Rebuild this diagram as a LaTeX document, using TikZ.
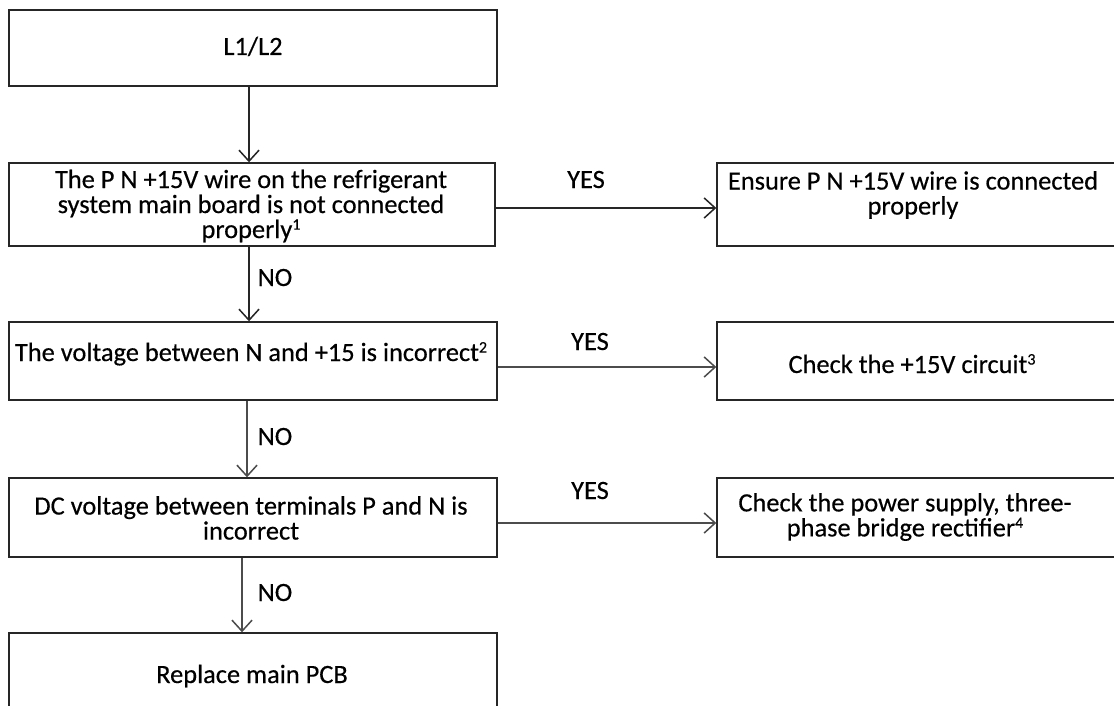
\documentclass[tikz,border=0pt]{standalone}
\usepackage{fontspec}
\setmainfont{Carlito}[FakeBold=0.4]
\usetikzlibrary{arrows.meta}
\newcommand\supr[1]{\raisebox{0.32em}{\fontsize{16}{16}\selectfont #1}}
\begin{document}
\begin{tikzpicture}[x=1pt,y=-1pt,
  box/.style={draw=black!85, line width=1.4pt, inner sep=0pt},
  txt/.style={font=\fontsize{26.4}{25}\selectfont, align=center, inner sep=0pt},
  lbl/.style={font=\fontsize{26.4}{25}\selectfont, inner sep=0pt, anchor=base},
  arr/.style={line width=1.5pt, draw=black!70, -{Straight Barb[length=11pt,width=20pt,line width=1.5pt]}},
]
\useasboundingbox (0,0) rectangle (1114,706);
\clip (0,0) rectangle (1114,706);
\fill[white] (0,0) rectangle (1114,706);
% boxes
\node[box, minimum width=488pt, minimum height=76pt] (A) at (253,48) {};
\node[box, minimum width=486pt, minimum height=83pt] (B) at (252,204.5) {};
\node[box, minimum width=417pt, minimum height=83pt] (R1) at (925.5,204.5) {};
\node[box, minimum width=488pt, minimum height=78pt] (C) at (253,361) {};
\node[box, minimum width=417pt, minimum height=78pt] (R2) at (925.5,361) {};
\node[box, minimum width=488pt, minimum height=79pt] (D) at (253,517.5) {};
\node[box, minimum width=417pt, minimum height=79pt] (R3) at (925.5,517.5) {};
\node[box, minimum width=488pt, minimum height=107pt] (E) at (253,686.5) {};
% texts
\node[lbl] (tA) at (253,55) {L1/L2};
\node[txt] (tB) at (251,206) {The P N +15V wire on the refrigerant\\system main board is not connected\\properly\supr{1}};
\node[txt] (tR1) at (913,195) {Ensure P N +15V wire is connected\\properly};
\node[lbl] (tC) at (251,361) {The voltage between N and +15 is incorrect\supr{2}};
\node[lbl] (tR2) at (912,373) {Check the +15V circuit\supr{3}};
\node[txt] (tD) at (251,518) {DC voltage between terminals P and N is\\incorrect};
\node[txt] (tR3) at (905,517) {Check the power supply, three-\\phase bridge rectifier\supr{4}};
\node[lbl] (tE) at (252,683) {Replace main PCB};
% labels
\node[lbl] (y1) at (586,188) {YES};
\node[lbl] (y2) at (590,350) {YES};
\node[lbl] (y3) at (590,499) {YES};
\node[lbl] (n1) at (275,286) {NO};
\node[lbl] (n2) at (275,445) {NO};
\node[lbl] (n3) at (275,601) {NO};
% connectors
\draw[arr, draw=black!85] ([xshift=-4pt]A.south) -- ([xshift=-3pt]B.north);
\draw[arr, draw=black!85] ([xshift=-3pt]B.south) -- ([xshift=-4pt]C.north);
\draw[arr] ([xshift=-6pt]C.south) -- ([xshift=-6pt]D.north);
\draw[arr] ([xshift=-11pt]D.south) -- ([xshift=-11pt]E.north);
\draw[arr, draw=black!85] ([yshift=-3.5pt]B.east) -- ([yshift=-3.5pt]R1.west);
\draw[arr] ([yshift=-6pt]C.east) -- ([yshift=-6pt]R2.west);
\draw[arr] ([yshift=-5.5pt]D.east) -- ([yshift=-5.5pt]R3.west);
\end{tikzpicture}
\end{document}
